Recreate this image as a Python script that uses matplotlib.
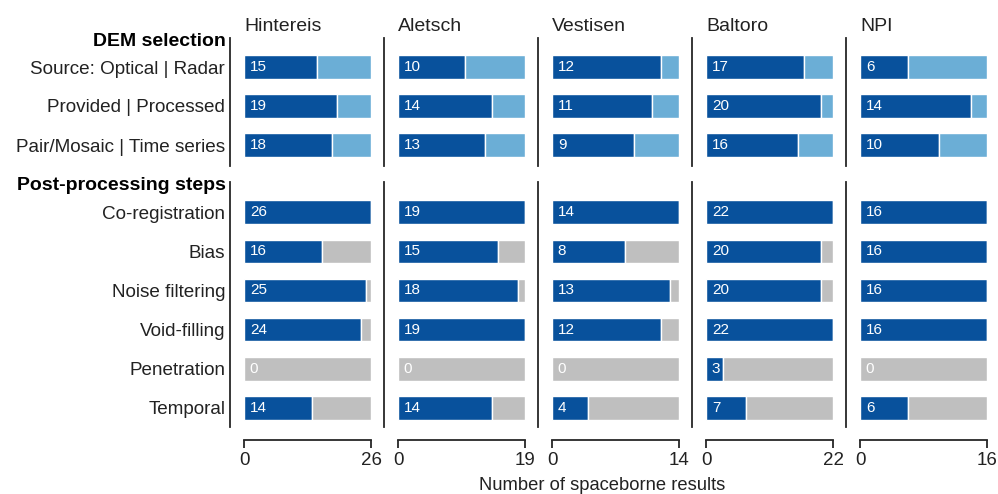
import matplotlib
matplotlib.use('Agg')
import matplotlib.pyplot as plt

plt.rcParams['font.family'] = ['Liberation Sans', 'DejaVu Sans']

# ---------------- data ----------------
glaciers = ['Hintereis', 'Aletsch', 'Vestisen', 'Baltoro', 'NPI']
totals = [26, 19, 14, 22, 16]

dem_header = 'DEM selection'
post_header = 'Post-processing steps'
dem_labels = ['Source: Optical | Radar', 'Provided | Processed', 'Pair/Mosaic | Time series']
post_labels = ['Co-registration', 'Bias', 'Noise filtering', 'Void-filling', 'Penetration', 'Temporal']

hintereis_dem = [15, 19, 18]
aletsch_dem = [10, 14, 13]
vestisen_dem = [12, 11, 9]
baltoro_dem = [17, 20, 16]
npi_dem = [6, 14, 10]

hintereis_post = [26, 16, 25, 24, 0, 14]
aletsch_post = [19, 15, 18, 19, 0, 14]
vestisen_post = [14, 8, 13, 12, 0, 4]
baltoro_post = [22, 20, 20, 22, 3, 7]
npi_post = [16, 16, 16, 16, 0, 6]

xlabel = 'Number of spaceborne results'

dem_all = [hintereis_dem, aletsch_dem, vestisen_dem, baltoro_dem, npi_dem]
post_all = [hintereis_post, aletsch_post, vestisen_post, baltoro_post, npi_post]

# ---------------- style ----------------
DARK = '#08519c'
LIGHT = '#6baed6'
GREY = '#bfbfbf'
TXT = '#222222'
SPINE = '#262626'

W, H, DPI = 998, 494, 100
fig = plt.figure(figsize=(W / DPI, H / DPI), dpi=DPI)


def rect(x0, ytop, w, h):
    return [x0 / W, 1 - (ytop + h) / H, w / W, h / H]


col_x = [244, 398, 552, 706, 860]
col_w = 127
top_y, top_h = 38, 128
bot_y, bot_h = 182, 245
pitch = 39.0

for c, (name, total) in enumerate(zip(glaciers, totals)):
    for part in ('top', 'bot'):
        if part == 'top':
            ax = fig.add_axes(rect(col_x[c], top_y, col_w, top_h))
            vals, labels, rem_col = dem_all[c], dem_labels, LIGHT
            n = len(vals)
            ylim = (n - 1 + 21 / pitch, -29 / pitch)
        else:
            ax = fig.add_axes(rect(col_x[c], bot_y, col_w, bot_h))
            vals, labels, rem_col = post_all[c], post_labels, GREY
            n = len(vals)
            ylim = (n - 1 + 19 / pitch, -30 / pitch)
        ys = list(range(n))
        rem = [total - v for v in vals]
        ax.barh(ys, vals, height=0.6, color=DARK, edgecolor='white', linewidth=1)
        ax.barh(ys, rem, left=vals, height=0.6, color=rem_col, edgecolor='white', linewidth=1)
        for y, v in zip(ys, vals):
            ax.annotate(str(v), xy=(0, y), xytext=(4.2, 0), textcoords='offset points',
                        ha='left', va='center', color='white', fontsize=11)
        ax.set_xlim(0, total)
        ax.set_ylim(*ylim)
        ax.set_facecolor('none')
        for s in ('top', 'right'):
            ax.spines[s].set_visible(False)
        ax.spines['left'].set_position(('outward', 10))
        ax.spines['left'].set_color(SPINE)
        ax.spines['left'].set_linewidth(1.3)
        if c == 0:
            ax.set_yticks(ys)
            ax.set_yticklabels(labels, fontsize=13.6, color=TXT)
        else:
            ax.set_yticks([])
        ax.tick_params(axis='y', length=0, pad=3.5)
        if part == 'top':
            ax.spines['bottom'].set_visible(False)
            ax.set_xticks([])
        else:
            ax.spines['bottom'].set_position(('outward', 9))
            ax.spines['bottom'].set_bounds(0, total)
            ax.spines['bottom'].set_color(SPINE)
            ax.spines['bottom'].set_linewidth(1.3)
            ax.set_xticks([0, total])
            ax.set_xticklabels(['0', str(total)], fontsize=13.5, color=TXT)
            ax.tick_params(axis='x', length=6, width=1.3, pad=3, color=SPINE)
    fig.text(col_x[c] / W, 1 - 31 / H, name, ha='left', va='baseline', fontsize=14, color=TXT)

fig.text(226 / W, 1 - 42 / H, dem_header, ha='right', va='center', fontsize=14,
         fontweight='bold', color='black')
fig.text(226 / W, 1 - 185 / H, post_header, ha='right', va='center', fontsize=14,
         fontweight='bold', color='black')
fig.text(602 / W, 1 - 490 / H, xlabel, ha='center', va='baseline', fontsize=13.2, color=TXT)

fig.savefig('out.png', dpi=DPI, facecolor='white')
